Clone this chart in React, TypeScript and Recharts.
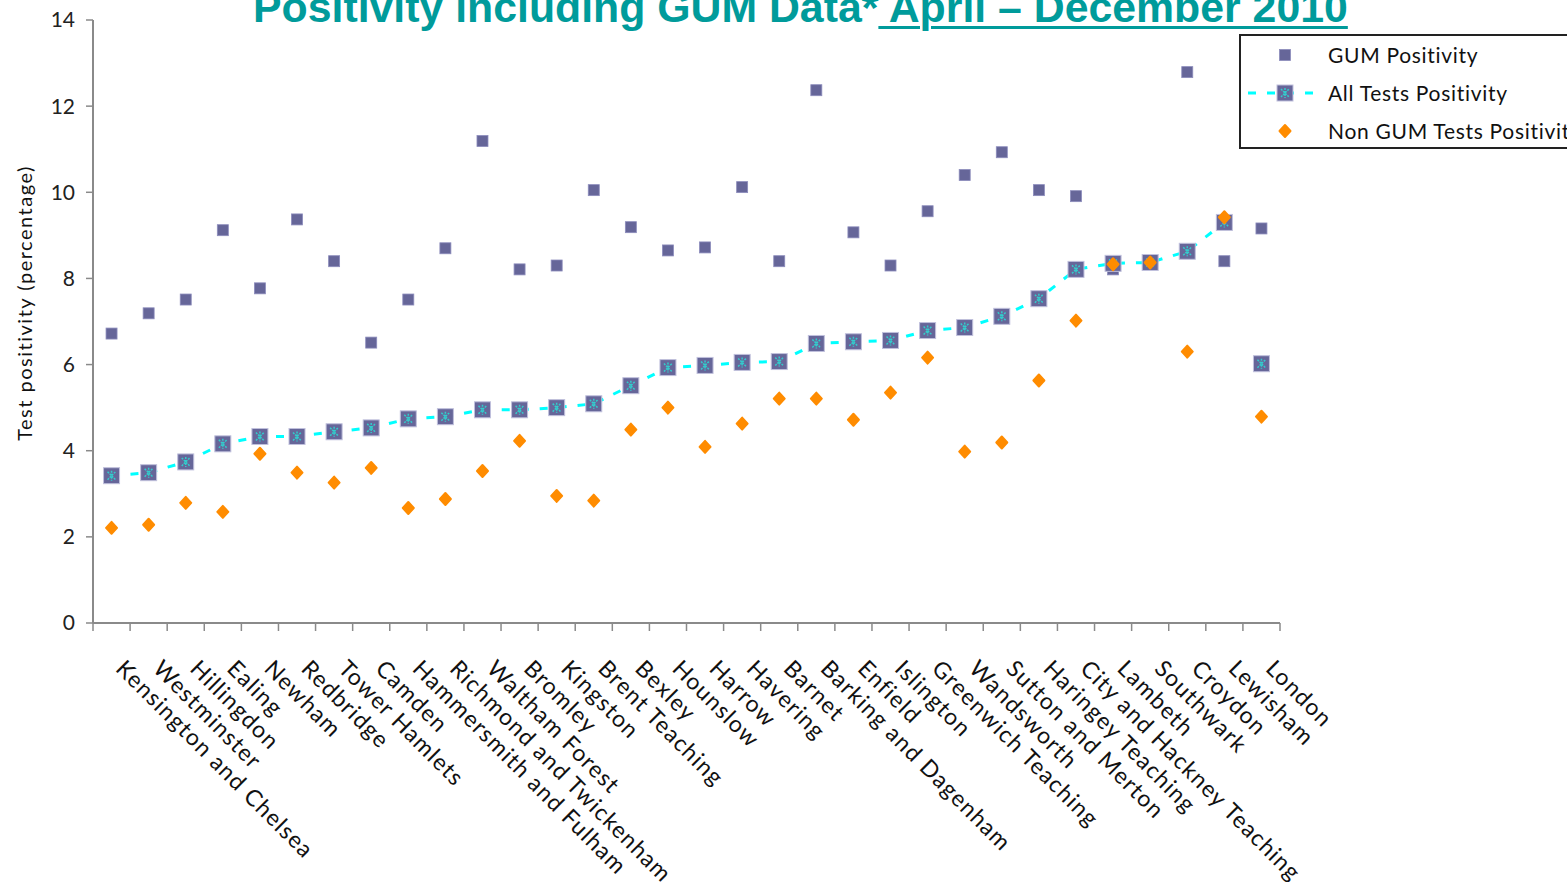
import { ComposedChart, Line, XAxis, YAxis } from 'recharts';

const categories = [
  'Kensington and Chelsea', 'Westminster', 'Hillingdon', 'Ealing', 'Newham', 'Redbridge',
  'Tower Hamlets', 'Camden', 'Hammersmith and Fulham', 'Richmond and Twickenham', 'Waltham Forest',
  'Bromley', 'Kingston', 'Brent Teaching', 'Bexley', 'Hounslow', 'Harrow', 'Havering', 'Barnet',
  'Barking and Dagenham', 'Enfield', 'Islington', 'Greenwich Teaching', 'Wandsworth',
  'Sutton and Merton', 'Haringey Teaching', 'City and Hackney Teaching', 'Lambeth', 'Southwark',
  'Croydon', 'Lewisham', 'London',
];

const gumPositivity = [
  6.72, 7.19, 7.51, 9.12, 7.77, 9.37, 8.4, 6.51, 7.51, 8.7, 11.19, 8.21, 8.3, 10.05, 9.19, 8.65,
  8.72, 10.12, 8.4, 12.37, 9.07, 8.3, 9.56, 10.4, 10.93, 10.05, 9.91, 8.21, 8.37, 12.79, 8.4, 9.16,
];

const allTestsPositivity = [
  3.42, 3.49, 3.74, 4.16, 4.33, 4.33, 4.44, 4.53, 4.74, 4.79, 4.95, 4.95, 5.0, 5.09, 5.51, 5.93,
  5.98, 6.05, 6.07, 6.49, 6.53, 6.56, 6.79, 6.86, 7.12, 7.53, 8.21, 8.35, 8.37, 8.63, 9.3, 6.02,
];

const nonGumPositivity = [
  2.21, 2.28, 2.79, 2.58, 3.93, 3.49, 3.26, 3.6, 2.67, 2.88, 3.53, 4.23, 2.95, 2.84, 4.49, 5.0,
  4.09, 4.63, 5.21, 5.21, 4.72, 5.35, 6.16, 3.98, 4.19, 5.63, 7.02, 8.33, 8.37, 6.3, 9.42, 4.79,
];

const yTicks = [0, 2, 4, 6, 8, 10, 12, 14];

const AXIS = '#8a8a8a';
const GUM_COLOR = '#666699';
const LINE_COLOR = '#00ffff';
const STAR_COLOR = '#33cccc';
const ORANGE = '#ff8c00';
const TEAL = '#009b9b';
const FONT = 'Lato, "Open Sans", sans-serif';

// London is the overall figure, so it is not joined to the borough line
const data = categories.map((name, i) => ({
  name,
  pos: i + 0.5,
  gum: gumPositivity[i],
  all: allTestsPositivity[i],
  allLine: name === 'London' ? null : allTestsPositivity[i],
  nonGum: nonGumPositivity[i],
}));

// integer ticks = category boundaries (tick marks), half ticks = category labels
const xTicks: number[] = [];
for (let i = 0; i <= categories.length; i++) {
  xTicks.push(i);
  if (i < categories.length) xTicks.push(i + 0.5);
}

const GumSquare = ({ cx, cy }: { cx: number; cy: number }) => (
  <rect x={cx - 5.5} y={cy - 5.5} width={11} height={11} fill={GUM_COLOR} stroke="#8c8cbc" strokeWidth={0.8} />
);

const AllMarker = ({ cx, cy }: { cx: number; cy: number }) => (
  <g>
    <rect x={cx - 8} y={cy - 8} width={16} height={16} fill={GUM_COLOR} stroke="#c0c0dc" strokeWidth={1} />
    <path
      d={`M${cx - 4} ${cy - 4}L${cx + 4} ${cy + 4}M${cx - 4} ${cy + 4}L${cx + 4} ${cy - 4}M${cx} ${cy - 5}L${cx} ${cy + 5}`}
      stroke={STAR_COLOR}
      strokeWidth={1.5}
      strokeDasharray="2 1"
    />
  </g>
);

const Diamond = ({ cx, cy }: { cx: number; cy: number }) => (
  <path
    d={`M${cx} ${cy - 6}L${cx + 5.5} ${cy}L${cx} ${cy + 6}L${cx - 5.5} ${cy}Z`}
    fill={ORANGE}
    stroke={ORANGE}
    strokeWidth={2}
    strokeLinejoin="round"
  />
);

const dotOf = (Comp: any, prefix: string) => (p: any) =>
  p.cy == null ? <g key={`${prefix}-${p.index}`} /> : <Comp key={`${prefix}-${p.index}`} cx={p.cx} cy={p.cy} />;

const CategoryTick = (props: any) => {
  const { x, y, payload } = props;
  const v = payload.value;
  if (Number.isInteger(v)) {
    return <line x1={x} x2={x} y1={y - 8} y2={y} stroke={AXIS} strokeWidth={1.5} />;
  }
  const name = categories[Math.floor(v)];
  const tx = x + 3;
  const ty = y + 39;
  return (
    <text
      x={tx}
      y={ty}
      transform={`rotate(45 ${tx} ${ty})`}
      textAnchor="start"
      fontSize={23}
      fontFamily={FONT}
      letterSpacing={1.2}
      fill="#111"
    >
      {name}
    </text>
  );
};

const legendRows = [
  { label: 'GUM Positivity', kind: 'gum' },
  { label: 'All Tests Positivity', kind: 'all' },
  { label: 'Non GUM Tests Positivity', kind: 'nonGum' },
];

const LegendBox = () => (
  <div
    style={{
      position: 'absolute',
      left: 1239,
      top: 34,
      width: 360,
      height: 111,
      border: '2px solid #222',
      background: '#fff',
      fontFamily: FONT,
    }}
  >
    {legendRows.map((row, i) => (
      <div key={row.label} style={{ position: 'absolute', left: 0, top: 7 + i * 38, height: 24, width: 360 }}>
        <svg width={86} height={24} style={{ position: 'absolute', left: 0, top: 0 }}>
          {row.kind === 'all' && (
            <line x1={7} x2={80} y1={12} y2={12} stroke={LINE_COLOR} strokeWidth={3} strokeDasharray="8 11" />
          )}
          {row.kind === 'gum' && <GumSquare cx={44} cy={12} />}
          {row.kind === 'all' && <AllMarker cx={44} cy={12} />}
          {row.kind === 'nonGum' && <Diamond cx={44} cy={12} />}
        </svg>
        <span
          style={{
            position: 'absolute',
            left: 87,
            top: 0,
            lineHeight: '24px',
            fontSize: 21,
            letterSpacing: 0.7,
            color: '#111',
            whiteSpace: 'nowrap',
          }}
        >
          {row.label}
        </span>
      </div>
    ))}
  </div>
);

export default function App() {
  return (
    <div
      style={{
        position: 'absolute',
        left: 0,
        top: 0,
        width: 1567,
        height: 885,
        overflow: 'hidden',
        background: '#fff',
      }}
    >
      <div
        style={{
          position: 'absolute',
          left: 253,
          top: -14,
          fontFamily: '"Liberation Sans", Arial, sans-serif',
          fontWeight: 'bold',
          fontSize: 42.8,
          lineHeight: '42px',
          color: TEAL,
          whiteSpace: 'nowrap',
        }}
      >
        Positivity including GUM Data*
        <span style={{ textDecoration: 'underline', textDecorationThickness: 3, textUnderlineOffset: 4 }}>
          {' April – December 2010'}
        </span>
      </div>

      <div style={{ position: 'absolute', left: 0, top: 0 }}>
        <ComposedChart width={1567} height={885} data={data} margin={{ top: 20, right: 287, bottom: 0, left: 0 }}>
          <XAxis
            type="number"
            dataKey="pos"
            domain={[0, categories.length]}
            ticks={xTicks}
            interval={0}
            height={262}
            tickSize={8}
            tickMargin={0}
            tickLine={false}
            axisLine={{ stroke: AXIS, strokeWidth: 2 }}
            tick={CategoryTick}
          />
          <YAxis
            domain={[0, 14]}
            ticks={yTicks}
            interval={0}
            width={93}
            tickSize={7}
            tickMargin={11}
            axisLine={{ stroke: AXIS, strokeWidth: 2 }}
            tickLine={{ stroke: AXIS, strokeWidth: 1.5 }}
            tick={{ fontSize: 21, fill: '#222', fontFamily: FONT }}
          />
          <Line
            dataKey="gum"
            stroke="none"
            dot={dotOf(GumSquare, 'gum')}
            activeDot={false}
            isAnimationActive={false}
          />
          <Line
            dataKey="allLine"
            type="linear"
            stroke={LINE_COLOR}
            strokeWidth={3}
            strokeDasharray="8 11"
            dot={false}
            activeDot={false}
            isAnimationActive={false}
          />
          <Line
            dataKey="all"
            stroke="none"
            dot={dotOf(AllMarker, 'all')}
            activeDot={false}
            isAnimationActive={false}
          />
          <Line
            dataKey="nonGum"
            stroke="none"
            dot={dotOf(Diamond, 'nongum')}
            activeDot={false}
            isAnimationActive={false}
          />
        </ComposedChart>
      </div>

      <div
        style={{
          position: 'absolute',
          left: 24,
          top: 303,
          transform: 'translate(-50%, -50%) rotate(-90deg)',
          whiteSpace: 'nowrap',
          fontFamily: FONT,
          fontSize: 20,
          letterSpacing: 1.5,
          color: '#111',
        }}
      >
        Test positivity (percentage)
      </div>

      <LegendBox />
    </div>
  );
}
